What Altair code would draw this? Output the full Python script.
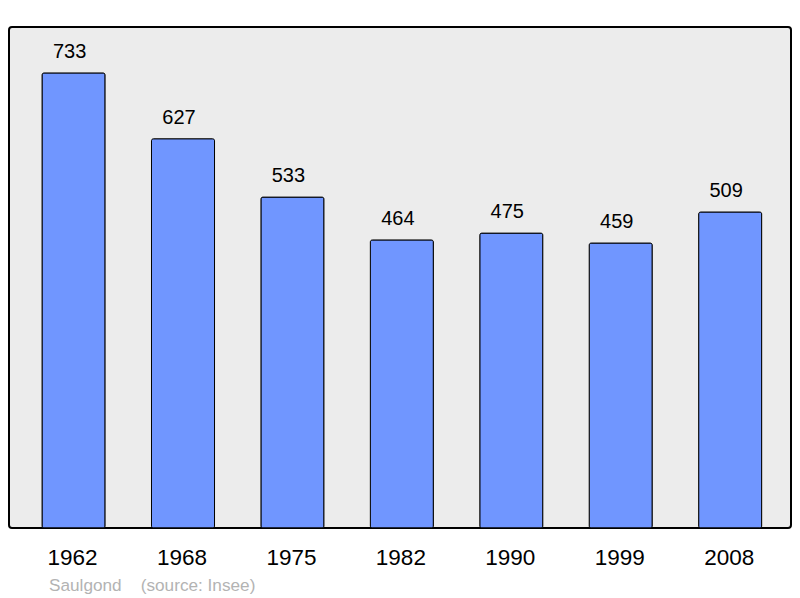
import altair as alt
import pandas as pd

years = ["1962", "1968", "1975", "1982", "1990", "1999", "2008"]
population = [733, 627, 533, 464, 475, 459, 509]

df = pd.DataFrame({"year": years, "pop": population})

x = alt.X("year:O", sort=years, title=None,
          scale=alt.Scale(paddingInner=0.424, paddingOuter=0.285, align=0.53),
          axis=alt.Axis(labelAngle=0, labelFontSize=22.5, labelFont="Liberation Sans",
                        labelColor="black", labelBaseline="alphabetic",
                        labelPadding=36, labelOffset=-1, ticks=False, tickSize=0,
                        domain=False, grid=False))
y = alt.Y("pop:Q", title=None, scale=alt.Scale(domain=[0, 807], nice=False, zero=True),
          axis=None)

bars = alt.Chart(df).mark_bar(color="#7096ff", stroke="black", strokeWidth=1,
                              cornerRadius=2).encode(x=x, y=y)
labels = alt.Chart(df).mark_text(font="Liberation Sans", fontSize=20, color="black",
                                 baseline="alphabetic", dy=-15, dx=-4).encode(
    x=x, y=y, text="pop:Q")

chart = alt.layer(bars, labels).properties(
    width=782, height=501,
    autosize=alt.AutoSizeParams(type="none"),
    padding={"left": 1, "top": 19, "right": 1, "bottom": 70},
    title=alt.TitleParams(
        text="Saulgond\u00a0\u00a0\u00a0\u00a0(source: Insee)",
        orient="bottom", anchor="start", frame="group", dx=40, offset=22,
        font="Liberation Sans", fontSize=17.2, fontWeight="normal",
        color="#b3b3b3", baseline="alphabetic"),
).configure_view(fill="#ececec", stroke="black", strokeWidth=2, cornerRadius=3)

chart.save("out.html", embed_options={"renderer": "svg", "actions": False})
